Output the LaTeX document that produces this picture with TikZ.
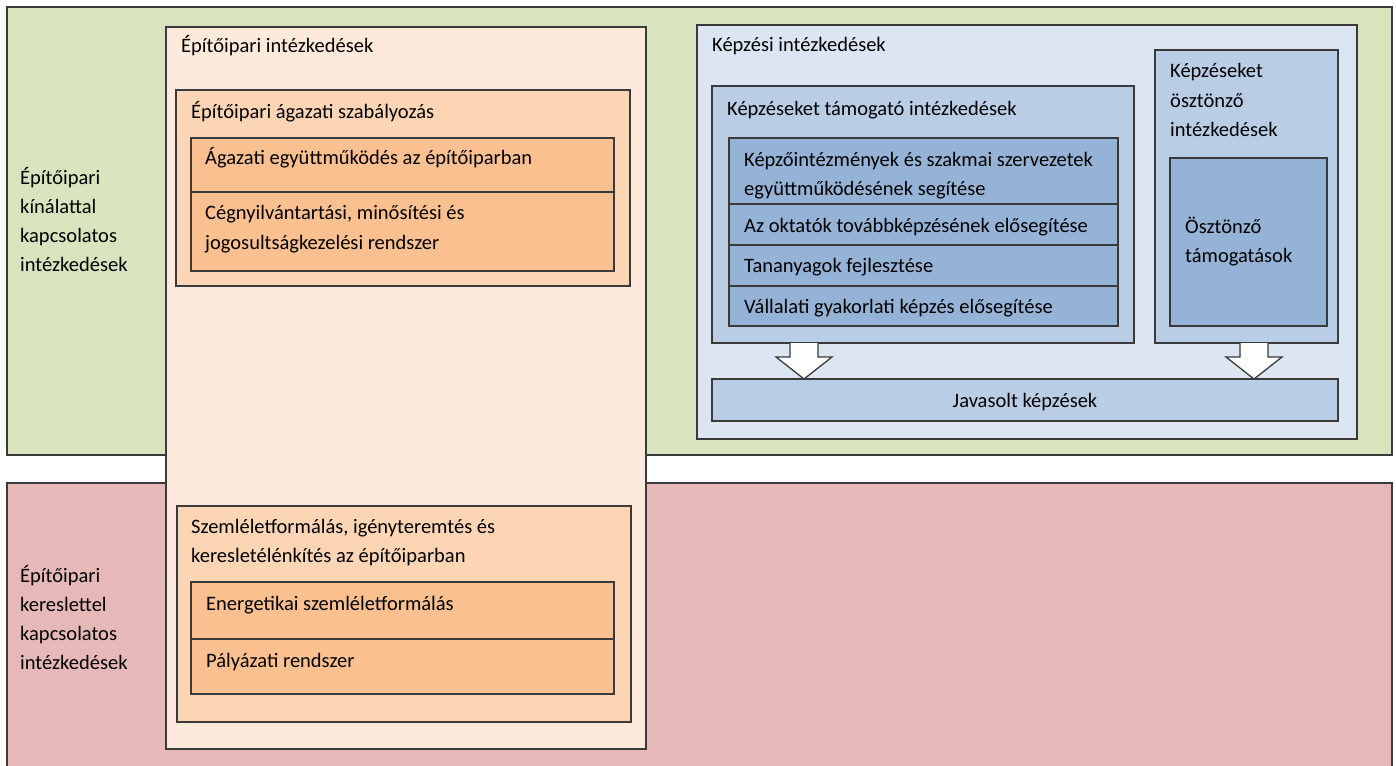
\documentclass[tikz,border=0pt]{standalone}
\usepackage{fontspec}
\setmainfont{Carlito}
\definecolor{bord}{HTML}{3A3A3A}
\definecolor{gr}{HTML}{D7E4BD}
\definecolor{rd}{HTML}{E6B9B8}
\definecolor{orA}{HTML}{FDEADA}
\definecolor{orB}{HTML}{FCD5B5}
\definecolor{orC}{HTML}{FAC090}
\definecolor{blA}{HTML}{DCE6F2}
\definecolor{blB}{HTML}{B9CDE5}
\definecolor{blC}{HTML}{95B3D7}
\newcommand\mybox[6]{\node[bx,fill=#6,anchor=north west,minimum width={#4-#2},minimum height={#5-#3}] (#1) at (#2,#3) {};}
\newcommand\blockarrow[4]{%
  \fill[white] (#2-14,#3) -- (#2-14,#4-22) -- (#2-28,#4-22) -- (#2,#4) -- (#2+28,#4-22) -- (#2+14,#4-22) -- (#2+14,#3) -- cycle;
  \draw[bord,line width=1.3pt,line join=miter] (#2-14,#3) -- (#2-14,#4-22) -- (#2-28,#4-22) -- (#2,#4) -- (#2+28,#4-22) -- (#2+14,#4-22) -- (#2+14,#3);
  \coordinate (#1) at (#2,#4);}
\begin{document}
\begin{tikzpicture}[x=1pt,y=-1pt,
  bx/.style={draw=bord,line width=1.3pt,inner sep=0pt,outer sep=0pt},
  lbl/.style={anchor=base west,inner sep=0pt,font=\fontsize{20.5}{29.5}\selectfont,text=black},
]
\useasboundingbox (0,0) rectangle (1396,765);
\fill[white] (0,0) rectangle (1396,765);
% background bands
\mybox{green}{7}{7}{1392}{455}{gr}
\mybox{red}{7}{483}{1392}{770}{rd}
\node[lbl] (g1) at (20,184) {Építőipari};
\node[lbl] (g2) at (20,213) {kínálattal};
\node[lbl] (g3) at (20,242) {kapcsolatos};
\node[lbl] (g4) at (20,271) {intézkedések};
\node[lbl] (r1) at (20,582) {Építőipari};
\node[lbl] (r2) at (20,611) {kereslettel};
\node[lbl] (r3) at (20,640) {kapcsolatos};
\node[lbl] (r4) at (20,669) {intézkedések};
% orange column
\mybox{epit}{166}{27}{646}{749}{orA}
\node[lbl] (t1) at (181,53) {Építőipari intézkedések};
\mybox{szab}{176}{90}{630}{286}{orB}
\node[lbl] (t2) at (191,118) {Építőipari ágazati szabályozás};
\mybox{szabA}{191}{138}{614}{192}{orC}
\mybox{szabB}{191}{192}{614}{271}{orC}
\node[lbl] (t3) at (205,164) {Ágazati együttműködés az építőiparban};
\node[lbl] (t4) at (205,219) {Cégnyilvántartási, minősítési és};
\node[lbl] (t5) at (205,249) {jogosultságkezelési rendszer};
\mybox{szem}{177}{506}{631}{722}{orB}
\node[lbl] (t6) at (191,533) {Szemléletformálás, igényteremtés és};
\node[lbl] (t7) at (191,562) {keresletélénkítés az építőiparban};
\mybox{szemA}{191}{582}{614}{639}{orC}
\mybox{szemB}{191}{639}{614}{694}{orC}
\node[lbl] (t8) at (206,610) {Energetikai szemléletformálás};
\node[lbl] (t9) at (206,667) {Pályázati rendszer};
% blue block
\mybox{kepz}{697}{25}{1357}{439}{blA}
\node[lbl] (b1) at (712,52) {Képzési intézkedések};
\mybox{tam}{712}{86}{1134}{343}{blB}
\node[lbl] (b2) at (727,115) {Képzéseket támogató intézkedések};
\mybox{tamA}{729}{138}{1118}{204}{blC}
\mybox{tamB}{729}{204}{1118}{245}{blC}
\mybox{tamC}{729}{245}{1118}{286}{blC}
\mybox{tamD}{729}{286}{1118}{326}{blC}
\node[lbl] (b3) at (744,166) {Képzőintézmények és szakmai szervezetek};
\node[lbl] (b4) at (744,195) {együttműködésének segítése};
\node[lbl] (b5) at (744,232) {Az oktatók továbbképzésének elősegítése};
\node[lbl] (b6) at (744,272) {Tananyagok fejlesztése};
\node[lbl] (b7) at (744,313) {Vállalati gyakorlati képzés elősegítése};
\mybox{oszt}{1155}{50}{1338}{343}{blB}
\node[lbl] (b8) at (1170,78) {Képzéseket};
\node[lbl] (b9) at (1170,107) {ösztönző};
\node[lbl] (b10) at (1170,136) {intézkedések};
\mybox{osztA}{1170}{158}{1327}{326}{blC}
\node[lbl] (b11) at (1185,233) {Ösztönző};
\node[lbl] (b12) at (1185,262) {támogatások};
\mybox{jav}{712}{379}{1338}{421}{blB}
\node[lbl,anchor=base] (b13) at (1025,407) {Javasolt képzések};
% block arrows
\blockarrow{arrL}{804}{343}{379}
\blockarrow{arrR}{1254}{343}{379}
\end{tikzpicture}
\end{document}
